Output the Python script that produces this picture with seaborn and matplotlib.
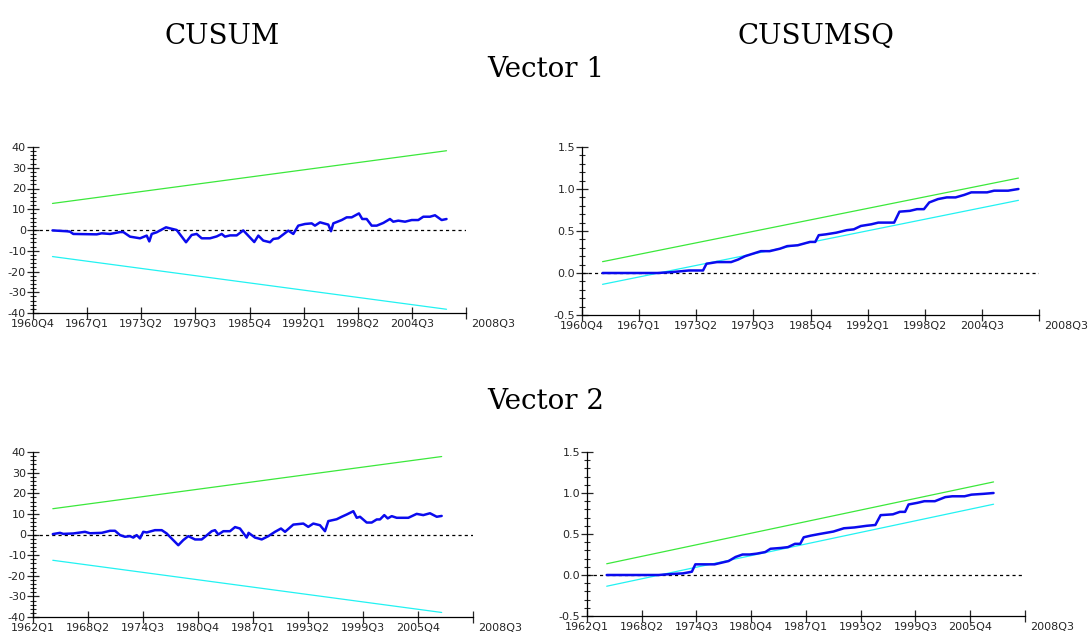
import matplotlib
matplotlib.use("Agg")

import pandas as pd
import matplotlib.pyplot as plt
import seaborn as sns
from matplotlib.ticker import MultipleLocator, FormatStrFormatter


# ---- Vector 1 ----
cusum1_year = [
    1963.00, 1964.64, 1965.02, 1965.40, 1968.11, 1968.68, 1969.64, 1970.80,
    1971.18, 1971.95, 1973.11, 1973.88, 1974.18, 1974.46, 1975.03, 1976.11,
    1976.56, 1977.34, 1978.42, 1979.07, 1979.65, 1980.23, 1981.19, 1981.96,
    1982.54, 1982.92, 1983.50, 1984.27, 1985.03, 1986.30, 1986.77, 1987.34,
    1988.12, 1988.50, 1989.07, 1990.23, 1990.81, 1991.38, 1992.16, 1992.93,
    1993.31, 1993.89, 1994.85, 1995.16, 1995.43, 1996.40, 1996.97, 1997.55,
    1998.39, 1998.77, 1999.28, 1999.86, 2000.44, 2001.20, 2001.97, 2002.35,
    2002.93, 2003.71, 2004.48, 2005.24, 2005.82, 2006.59, 2007.17, 2007.94,
    2008.50,
]
cusum1_value = [
    -0.2, -0.6, -0.8, -1.9, -2.1, -1.6, -1.9, -1.0,
    -1.0, -3.2, -4.0, -2.7, -5.5, -1.9, -1.1, 1.3,
    0.8, 0.0, -5.9, -2.4, -1.9, -4.0, -4.0, -3.1,
    -1.9, -3.2, -2.6, -2.6, -0.2, -5.8, -2.7, -5.1,
    -5.9, -4.3, -4.0, -0.3, -1.9, 2.1, 2.9, 3.2,
    2.1, 3.7, 2.6, -0.6, 3.2, 4.8, 6.1, 6.1,
    8.0, 5.3, 5.3, 2.1, 2.1, 3.4, 5.3, 4.0,
    4.5, 4.0, 4.8, 4.8, 6.4, 6.4, 7.1, 4.8,
    5.3,
]
cusum1_upper = [12.8, 38.2]
cusum1_lower = [-12.8, -38.2]

cusumsq1_year = [
    1963.00, 1969.00, 1970.54, 1972.45, 1973.99, 1974.37, 1975.52, 1977.06,
    1977.83, 1978.59, 1979.74, 1980.32, 1981.28, 1982.43, 1983.20, 1984.35,
    1985.69, 1986.27, 1986.65, 1987.42, 1988.57, 1989.72, 1990.49, 1991.26,
    1992.41, 1993.17, 1994.90, 1995.48, 1996.63, 1997.40, 1998.16, 1998.74,
    1999.70, 2000.66, 2001.62, 2002.58, 2003.34, 2005.07, 2005.84, 2007.37,
    2008.50,
]
cusumsq1_value = [
    0.0, 0.0, 0.01, 0.03, 0.03, 0.11, 0.13, 0.13,
    0.16, 0.20, 0.24, 0.26, 0.26, 0.29, 0.32, 0.33,
    0.37, 0.37, 0.45, 0.46, 0.48, 0.51, 0.52, 0.56,
    0.58, 0.60, 0.60, 0.73, 0.74, 0.76, 0.76, 0.84,
    0.88, 0.90, 0.90, 0.93, 0.96, 0.96, 0.98, 0.98,
    1.00,
]
cusumsq1_upper = [0.135, 1.13]
cusumsq1_lower = [-0.135, 0.865]

v1_ticks = ['1960Q4', '1967Q1', '1973Q2', '1979Q3',
            '1985Q4', '1992Q1', '1998Q2', '2004Q3']

# ---- Vector 2 ----
cusum2_year = [
    1964.25, 1965.07, 1965.44, 1966.58, 1967.91, 1968.48, 1969.81, 1970.75,
    1971.32, 1971.89, 1972.45, 1973.02, 1973.40, 1973.78, 1974.16, 1974.53,
    1974.92, 1975.86, 1976.63, 1977.19, 1978.51, 1979.08, 1979.65, 1980.41,
    1981.17, 1981.55, 1982.31, 1982.68, 1983.06, 1983.63, 1984.39, 1984.96,
    1985.52, 1986.28, 1986.50, 1987.23, 1987.60, 1987.99, 1988.74, 1989.50,
    1990.18, 1990.64, 1991.58, 1992.72, 1993.28, 1993.85, 1994.61, 1995.18,
    1995.56, 1996.51, 1997.08, 1997.65, 1998.40, 1998.79, 1999.16, 1999.92,
    2000.49, 2001.06, 2001.43, 2001.92, 2002.31, 2002.76, 2003.33, 2004.65,
    2005.60, 2006.35, 2007.11, 2007.88, 2008.44,
]
cusum2_value = [
    0.2, 0.8, 0.3, 0.5, 1.3, 0.6, 0.8, 1.8,
    1.8, -0.3, -1.1, -0.8, -1.5, -0.3, -1.9, 1.3,
    1.0, 2.1, 2.1, 0.5, -5.2, -2.7, -0.8, -2.4,
    -2.4, -1.1, 1.6, 2.1, 0.0, 1.6, 1.6, 3.6,
    2.9, -1.5, 0.8, -1.5, -1.9, -2.4, -0.8, 1.3,
    2.9, 1.3, 4.8, 5.3, 3.7, 5.3, 4.5, 1.6,
    6.5, 7.4, 8.6, 9.7, 11.3, 8.1, 8.6, 5.8,
    5.8, 7.3, 7.3, 9.4, 7.8, 8.9, 8.1, 8.1,
    10.0, 9.4, 10.3, 8.6, 9.0,
]
cusum2_upper = [12.5, 37.8]
cusum2_lower = [-12.5, -37.8]

cusumsq2_year = [
    1964.25, 1970.18, 1971.38, 1972.97, 1973.97, 1974.37, 1975.37, 1976.57,
    1977.36, 1978.16, 1978.96, 1979.76, 1980.56, 1981.35, 1982.35, 1982.95,
    1984.15, 1984.94, 1985.74, 1986.34, 1986.74, 1987.54, 1988.54, 1990.13,
    1991.33, 1992.53, 1993.92, 1994.92, 1995.52, 1996.92, 1997.71, 1998.31,
    1998.71, 1999.71, 2000.51, 2001.71, 2002.90, 2003.70, 2005.10, 2005.89,
    2007.29, 2008.41,
]
cusumsq2_value = [
    0.0, 0.0, 0.01, 0.02, 0.04, 0.13, 0.13, 0.13,
    0.15, 0.17, 0.22, 0.25, 0.25, 0.26, 0.28, 0.32,
    0.33, 0.34, 0.38, 0.38, 0.46, 0.48, 0.50, 0.53,
    0.57, 0.58, 0.60, 0.61, 0.73, 0.74, 0.77, 0.77,
    0.86, 0.88, 0.90, 0.90, 0.95, 0.96, 0.96, 0.98,
    0.99, 1.00,
]
cusumsq2_upper = [0.137, 1.135]
cusumsq2_lower = [-0.137, 0.863]

v2_ticks = ['1962Q1', '1968Q2', '1974Q3', '1980Q4',
            '1987Q1', '1993Q2', '1999Q3', '2005Q4']

end_label = '2008Q3'

GREEN = '#3be83b'
CYAN = '#22f2f2'
BLUE = '#0b0bee'

FIG_W, FIG_H = 1088, 633


def quarter_to_year(label):
    return int(label[:4]) + (int(label[5]) - 1) / 4


def pixel_rect(x0, y0, x1, y1):
    # pixel box (left, top, right, bottom) -> figure fraction
    return [x0 / FIG_W, 1 - y1 / FIG_H, (x1 - x0) / FIG_W, (y1 - y0) / FIG_H]


def draw_panel(ax, years, values, upper, lower, ticks, ylim, major, minor, fmt):

    df = pd.DataFrame({'year': years, 'value': values})
    ends = [years[0], years[-1]]

    ax.axhline(0, color='black', linewidth=0.9,
               linestyle=(0, (2.5, 2.5)), zorder=1)
    sns.lineplot(x=ends, y=upper, ax=ax, color=GREEN, linewidth=0.9, zorder=2)
    sns.lineplot(x=ends, y=lower, ax=ax, color=CYAN, linewidth=0.9, zorder=2)
    sns.lineplot(data=df, x='year', y='value', ax=ax,
                 color=BLUE, linewidth=1.8, zorder=3)

    pos = [quarter_to_year(t) for t in ticks]
    step = pos[1] - pos[0]
    end = pos[-1] + step
    ax.set_xlim(pos[0], end)
    ax.set_ylim(*ylim)
    ax.set_xticks(pos + [end])
    ax.set_xticklabels(ticks + [''])

    ax.yaxis.set_major_locator(MultipleLocator(major))
    ax.yaxis.set_minor_locator(MultipleLocator(minor))
    ax.yaxis.set_major_formatter(FormatStrFormatter(fmt))

    ax.tick_params(axis='x', direction='inout', length=8, width=0.9,
                   labelsize=8, pad=0)
    ax.tick_params(axis='y', which='major', direction='inout', length=8,
                   width=0.9, labelsize=8, pad=1)
    ax.tick_params(axis='y', which='minor', direction='inout', length=4,
                   width=0.8)

    ax.set_xlabel('')
    ax.set_ylabel('')
    ax.set_facecolor('white')
    sns.despine(ax=ax)
    for side in ['left', 'bottom']:
        ax.spines[side].set_color('black')
        ax.spines[side].set_linewidth(0.9)

    ax.annotate(end_label, xy=(1, 0), xycoords='axes fraction',
                xytext=(4, -4), textcoords='offset points',
                ha='left', va='top', fontsize=8)


def main():

    sns.set_style("ticks")
    plt.rcParams['font.family'] = ['DejaVu Sans']
    plt.rcParams['axes.unicode_minus'] = False

    fig = plt.figure(figsize=(FIG_W / 100, FIG_H / 100), dpi=100)
    fig.patch.set_facecolor('white')

    ax_tl = fig.add_axes(pixel_rect(33, 147, 466, 313))
    ax_tr = fig.add_axes(pixel_rect(582, 147, 1039, 315))
    ax_bl = fig.add_axes(pixel_rect(33, 452, 473, 617))
    ax_br = fig.add_axes(pixel_rect(587, 452, 1025, 616))

    draw_panel(ax_tl, cusum1_year, cusum1_value, cusum1_upper, cusum1_lower,
               v1_ticks, (-40, 40), 10, 2, '%d')
    draw_panel(ax_tr, cusumsq1_year, cusumsq1_value, cusumsq1_upper,
               cusumsq1_lower, v1_ticks, (-0.5, 1.5), 0.5, 0.1, '%.1f')
    draw_panel(ax_bl, cusum2_year, cusum2_value, cusum2_upper, cusum2_lower,
               v2_ticks, (-40, 40), 10, 2, '%d')
    draw_panel(ax_br, cusumsq2_year, cusumsq2_value, cusumsq2_upper,
               cusumsq2_lower, v2_ticks, (-0.5, 1.5), 0.5, 0.1, '%.1f')

    title_font = dict(family='DejaVu Serif', fontsize=20, color='black')
    fig.text(222 / FIG_W, 1 - 44 / FIG_H, 'CUSUM', ha='center',
             va='baseline', **title_font)
    fig.text(816 / FIG_W, 1 - 44 / FIG_H, 'CUSUMSQ', ha='center',
             va='baseline', **title_font)
    fig.text(546 / FIG_W, 1 - 77 / FIG_H, 'Vector 1', ha='center',
             va='baseline', **title_font)
    fig.text(546 / FIG_W, 1 - 409 / FIG_H, 'Vector 2', ha='center',
             va='baseline', **title_font)

    fig.savefig('out.png', dpi=100, facecolor='white')


if __name__ == "__main__":
    main()
